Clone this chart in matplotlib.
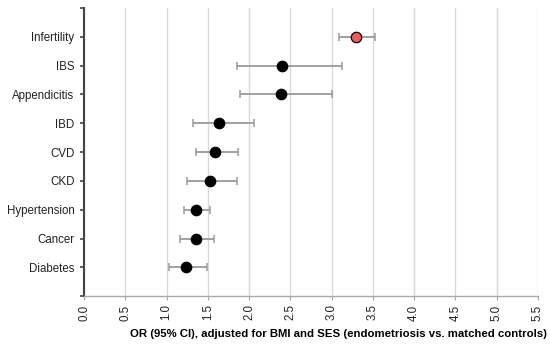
import matplotlib
matplotlib.use("Agg")
import matplotlib.pyplot as plt

plt.rcParams['font.family'] = ['Liberation Sans', 'DejaVu Sans']

conditions = ["Infertility", "IBS", "Appendicitis", "IBD", "CVD", "CKD",
              "Hypertension", "Cancer", "Diabetes"]
odds_ratio = [3.29, 2.40, 2.38, 1.64, 1.58, 1.52, 1.36, 1.35, 1.23]
ci_low = [3.09, 1.85, 1.89, 1.32, 1.36, 1.25, 1.21, 1.16, 1.03]
ci_high = [3.52, 3.13, 3.01, 2.06, 1.87, 1.85, 1.53, 1.57, 1.49]
x_ticks = [0.0, 0.5, 1.0, 1.5, 2.0, 2.5, 3.0, 3.5, 4.0, 4.5, 5.0, 5.5]

fig = plt.figure(figsize=(5.5, 3.48), dpi=100)
ax = fig.add_axes([0.153, 0.149, 0.825, 0.828])

n = len(conditions)
ypos = [n - i for i in range(n)]

for i, (c, o, lo, hi) in enumerate(zip(conditions, odds_ratio, ci_low, ci_high)):
    ax.errorbar(o, ypos[i], xerr=[[o - lo], [hi - o]], fmt='none',
                ecolor='#9a9a9a', elinewidth=1.3, capsize=3, capthick=1.1, zorder=2)
    face = '#f05a5a' if c == "Infertility" else 'black'
    ax.plot(o, ypos[i], 'o', markersize=7.5, markerfacecolor=face,
            markeredgecolor='black', markeredgewidth=0.9, zorder=3)

ax.set_xlim(0, 5.5)
ax.set_ylim(0, 10)
ax.set_xticks(x_ticks)
ax.set_xticklabels(["%.1f" % t for t in x_ticks], rotation=90, fontsize=8.3,
                   color='#222222')
ax.set_yticks(range(0, 11))
ax.set_yticklabels([""] + conditions[::-1] + [""], fontsize=8.3, color='#222222')
ax.tick_params(axis='y', length=3, width=1.2, color='#444444', pad=4)
ax.tick_params(axis='x', length=3, width=0.8, color='#aaaaaa', pad=3)

ax.grid(axis='x', color='#d9d9d9', linewidth=1)
ax.set_axisbelow(True)
for s in ['top', 'right']:
    ax.spines[s].set_visible(False)
ax.spines['left'].set_color('#444444')
ax.spines['left'].set_linewidth(1.5)
ax.spines['bottom'].set_color('#aaaaaa')
ax.spines['bottom'].set_linewidth(1)

ax.set_xlabel("OR (95% CI), adjusted for BMI and SES (endometriosis vs. matched controls)",
              fontsize=8.2, fontweight='bold')
ax.xaxis.set_label_coords(0.56, -0.115)

fig.savefig("out.png", dpi=100)
